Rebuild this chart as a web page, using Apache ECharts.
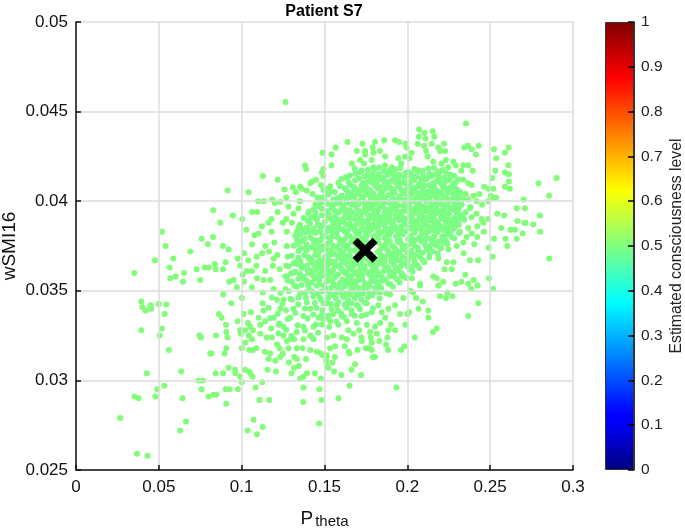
<!DOCTYPE html>
<html><head><meta charset="utf-8">
<style>html,body{margin:0;padding:0;background:#fff}#c{width:685px;height:530px}</style>
<script src="https://cdn.jsdelivr.net/npm/echarts@6/dist/echarts.min.js"></script>
</head><body><div id="c"></div>
<script>
const xTicks = {min:0, max:0.3, step:0.05};
const yTicks = {min:0.025, max:0.05, step:0.005};
const levelTicks = {min:0, max:1, step:0.1};
const jetStops = [[0,'#00007f'],[0.11,'#0000ff'],[0.125,'#0000ff'],[0.375,'#00ffff'],[0.5,'#80ff80'],[0.625,'#ffff00'],[0.875,'#ff0000'],[1,'#7f0000']];
const pointColor = '#81fd78';
const coreColor = '#7dfd84';
const markerTheta = [0.1745];
const markerWsmi = [0.03726];
const upperLeft = [[.1265,.04553],[.1488,.0427],[.1383,.0420],[.1389,.0418],[.1128,.0414],[.1217,.0412],[.0915,.0406],[.1042,.0405],[.1484,.0416],[.1494,.0418],[.1494,.0414],[.1448,.0412],[.1424,.0411],[.1414,.0410],[.1478,.0409],[.1259,.04065],[.1309,.04076],[.1353,.0408],[.1363,.0407],[.1392,.0406],[.1327,.0405],[.1514,.0407],[.1428,.0404],[.1458,.0402],[.1100,.0400],[.1134,.0400],[.1184,.0401],[.1200,.0399],[.1233,.03996],[.1269,.0402],[.1351,.0400],[.1444,.0398],[.1508,.03996],[.0828,.0395],[.1064,.0394],[.1094,.0394],[.0947,.0392],[.1003,.0390],[.0871,.0388],[.1180,.0390],[.1162,.0388],[.1217,.0394],[.1283,.0397],[.1343,.0396],[.1313,.0393],[.1404,.0394],[.1269,.0390],[.1249,.0388],[.1303,.0388],[.1353,.0387],[.1454,.0390],[.1514,.0392],[.1122,.0386],[.1028,.0384],[.1102,.0382],[.1078,.0381],[.1180,.0383],[.1273,.0383],[.1333,.0383],[.1394,.0385],[.0519,.0383],[.0827,.0380],[.0758,.0379],[.0541,.0375],[.0796,.0376],[.0887,.0375],[.0921,.0373],[.0690,.0372],[.1062,.0376],[.1142,.0375],[.1197,.0377],[.1273,.0375],[.1339,.0376],[.1394,.0374],[.1454,.0378],[.0587,.0368],[.0477,.0367],[.0976,.0368],[.1014,.0371],[.1040,.0367],[.1090,.0369],[.1124,.0371],[.1165,.0372],[.1215,.0370],[.1193,.0368],[.1277,.0369],[.0565,.0363],[.0352,.0360],[.0569,.0357],[.0601,.0358],[.0652,.0360],[.0646,.0355],[.0728,.0362],[.0778,.0363],[.0802,.0363],[.0839,.0365],[.0843,.0362],[.0887,.0362],[.0903,.0366],[.0750,.0356],[.0925,.0355],[.0951,.0356],[.1014,.0355],[.0991,.0364],[.1006,.0359],[.1030,.0361],[.1062,.0361],[.1090,.0364],[.1189,.0364],[.1092,.0357],[.1132,.0356],[.1142,.0361],[.1173,.0356],[.1229,.0362],[.1269,.0364],[.1323,.0366],[.1363,.0364],[.1404,.0368],[.1454,.0366],[.1273,.0358],[.1313,.0360],[.1363,.0357],[.1414,.0361],[.1474,.0363],[.1504,.0369],[.1263,.0351],[.1193,.0351],[.1062,.0352],[.0971,.0352]];
const lowerLeft = [[.0394,.0344],[.0450,.0342],[.0499,.03427],[.0545,.03423],[.0400,.0341],[.0420,.0339],[.0454,.0340],[.0535,.0337],[.0394,.0328],[.0519,.0329],[.0505,.0325],[.0561,.0317],[.0746,.0325],[.0754,.0324],[.0845,.0325],[.0863,.0337],[.0879,.0335],[.0889,.0348],[.0937,.0343],[.1001,.0346],[.1126,.0343],[.1128,.0349],[.0905,.0331],[.0907,.0327],[.0915,.0324],[.0907,.0318],[.0897,.0315],[.0810,.0315],[.0818,.0315],[.0975,.0333],[.1013,.0337],[.1056,.0338],[.1132,.0339],[.0991,.0328],[.0995,.0326],[.1021,.0328],[.1038,.0332],[.1052,.0330],[.1068,.0328],[.1102,.0335],[.1142,.0333],[.1112,.0331],[.1193,.0335],[.1178,.0329],[.1223,.0331],[.1253,.0330],[.1293,.0335],[.1213,.0345],[.1253,.0345],[.1303,.0345],[.1233,.0340],[.1313,.0340],[.1373,.0336],[.1414,.0340],[.1474,.0346],[.1464,.0335],[.1514,.0335],[.1373,.0330],[.1434,.0330],[.1333,.0327],[.1253,.0325],[.1293,.0323],[.1042,.0325],[.1062,.0323],[.1112,.0326],[.1152,.0324],[.1182,.0324],[.1021,.0321],[.1001,.0318],[.1046,.0317],[.1068,.0317],[.1088,.0318],[.1140,.0316],[.1172,.0315],[.1162,.0312],[.1203,.0311],[.1233,.0313],[.1249,.0315],[.1213,.0320],[.1229,.0318],[.1273,.0322],[.1317,.0323],[.1283,.0318],[.1333,.0318],[.1367,.0318],[.1373,.0323],[.1414,.0325],[.1434,.0323],[.1414,.0317],[.1454,.0316],[.1478,.0315],[.1510,.0313],[.1388,.0312],[.1317,.0313],[.1333,.0312],[.1285,.0310],[.1345,.0308],[.1317,.0307],[.1301,.0304],[.1156,.0306],[.1207,.0305],[.1394,.0304],[.1442,.0304],[.1373,.0302],[.1353,.0301],[.1478,.0301],[.1514,.0308],[.0921,.0307],[.0960,.0306],[.0962,.0304],[.0843,.0304],[.0887,.0304],[.1020,.0306],[.1044,.0305],[.1052,.0304],[.1066,.0302],[.0991,.0302],[.1001,.0299],[.1124,.0299],[.1084,.0296],[.0740,.0300],[.0766,.0300],[.0758,.0295],[.0903,.0295],[.0927,.0295],[.0977,.0295],[.0800,.0291],[.0830,.0292],[.0847,.0292],[.0907,.0287],[.1108,.0289],[.1166,.0289],[.1373,.0296],[.1470,.0295],[.1482,.0289],[.1371,.0288],[.1072,.0278],[.1468,.0276],[.1126,.0274],[.1036,.0272],[.1092,.0270],[.0428,.0304],[.0635,.0305],[.0533,.0297],[.0491,.0295],[.0479,.0291],[.0352,.0291],[.0378,.0290],[.0643,.0290],[.0267,.0279],[.0664,.0277],[.0629,.0272],[.0368,.0259],[.0432,.0258]];
const lowerRight = [[.2519,.0351],[.2424,.0353],[.2386,.0351],[.2429,.0343],[.2368,.0336],[.2272,.0347],[.2242,.0349],[.2234,.0346],[.2197,.0347],[.2187,.0353],[.2093,.0344],[.2053,.0346],[.2067,.0340],[.2127,.0339],[.2127,.0335],[.2177,.0329],[.2155,.0327],[.2045,.0324],[.2017,.0350],[.2033,.0349],[.2077,.0353],[.2000,.0337],[.1956,.0337],[.2012,.0338],[.1988,.0331],[.1982,.0319],[.1962,.0317],[.1884,.0317],[.1872,.0320],[.1880,.0324],[.1926,.0328],[.1902,.0331],[.1886,.0328],[.1815,.0326],[.1831,.0322],[.1775,.0327],[.1779,.0324],[.1785,.0321],[.1769,.0318],[.1749,.0318],[.1785,.0317],[.1791,.0313],[.1805,.0313],[.1723,.0324],[.1725,.0322],[.1699,.0317],[.1647,.0316],[.1651,.0315],[.1622,.0319],[.1604,.0324],[.1635,.0323],[.1675,.0326],[.1709,.0328],[.1554,.0325],[.1514,.0324],[.1564,.0319],[.1534,.0318],[.1562,.0313],[.1514,.0314],[.1490,.0314],[.1510,.0311],[.1548,.0310],[.1522,.0307],[.1558,.0305],[.1602,.0303],[.1663,.0306],[.1685,.0309],[.1721,.0303],[.1651,.0297],[.1934,.0296],[.1584,.0290],[.1534,.0348],[.1594,.0349],[.1655,.0348],[.1715,.0349],[.1775,.0348],[.1835,.0349],[.1896,.0348],[.1976,.0346],[.1514,.0343],[.1574,.0342],[.1635,.0343],[.1695,.0342],[.1755,.0343],[.1825,.0342],[.1886,.0340],[.1926,.0342],[.1504,.0336],[.1554,.0337],[.1604,.0336],[.1665,.0337],[.1725,.0336],[.1785,.0338],[.1846,.0338],[.1866,.0335],[.1534,.0333],[.1584,.0331],[.1635,.0333],[.1695,.0332],[.1755,.0331],[.1805,.0330],[.1836,.0332],[.1484,.0331],[.1645,.0328]];
const upperRight = [[.2354,.04434],[.2071,.0440],[.2103,.0438],[.2153,.0439],[.2069,.0436],[.2109,.0435],[.2163,.0436],[.2063,.0432],[.2101,.0431],[.2147,.0432],[.2222,.0432],[.2187,.0430],[.2197,.0428],[.2228,.0428],[.2113,.0428],[.2123,.0425],[.2026,.0427],[.1996,.0430],[.1988,.0432],[.1926,.0434],[.1950,.0433],[.1860,.0434],[.1805,.0433],[.1729,.0432],[.1639,.0433],[.1568,.0430],[.1490,.0427],[.1542,.0426],[.1695,.0428],[.1745,.0428],[.1791,.0430],[.1835,.0428],[.1795,.0427],[.1745,.0426],[.1866,.0425],[.1946,.0424],[.1986,.0425],[.2012,.0424],[.1715,.0423],[.1785,.0423],[.1665,.0421],[.1542,.0420],[.1739,.0421],[.1795,.0419],[.1866,.0420],[.1906,.0419],[.1963,.0421],[.2157,.0422],[.2207,.0421],[.2233,.0423],[.2278,.0422],[.2247,.0419],[.2292,.0420],[.2338,.0420],[.2368,.0420],[.2394,.0417],[.2326,.0417],[.2344,.0430],[.2366,.0431],[.2388,.0429],[.2430,.0431],[.2414,.0426],[.2523,.0429],[.2611,.0430],[.2589,.0427],[.2537,.0424],[.2610,.0420],[.2531,.0417],[.2589,.0416],[.2613,.0415],[.2511,.0413],[.2613,.0411],[.2589,.0408],[.2619,.0407],[.2464,.0408],[.2489,.0407],[.2519,.0407],[.2792,.0410],[.2901,.0413],[.2855,.0403],[.2702,.0401],[.2660,.0396],[.2710,.0396],[.2800,.0392],[.2585,.0392],[.2664,.0389],[.2543,.0393],[.2706,.0388],[.2714,.0388],[.2760,.0387],[.2802,.0383],[.2567,.0385],[.2622,.0384],[.2649,.0384],[.2696,.0382],[.2660,.0379],[.2592,.0379],[.2523,.0379],[.2604,.0375],[.2491,.0374],[.2515,.0369],[.2857,.0368],[.2340,.0371],[.2378,.0367],[.2427,.0367],[.2248,.0373],[.2187,.0368],[.2238,.0366],[.2278,.0366],[.2224,.0362],[.2268,.0362],[.2350,.0359],[.2493,.0357],[.2217,.0355],[.2189,.0353],[.2292,.0354],[.2326,.0355],[.2368,.0354],[.2400,.0356],[.2422,.0353],[.2077,.0354],[.2157,.0358],[.2177,.0357],[.2027,.0357],[.1966,.0358],[.2352,.0404],[.2400,.0403],[.2435,.0404],[.2368,.0401],[.2418,.0400],[.2451,.0398],[.2489,.0400],[.2515,.0402],[.2535,.0402],[.2503,.0403],[.2388,.0409],[.2368,.0410],[.2338,.0412],[.2378,.0396],[.2418,.0393],[.2388,.0391],[.2449,.0390],[.2489,.0390],[.2459,.0388],[.2422,.0386],[.2462,.0383],[.2368,.0385],[.2388,.0382],[.2422,.0380],[.2358,.0380],[.2404,.0376],[.2338,.0377],[.2298,.0375],[.2318,.0383],[.2268,.0380],[.2288,.0386],[.2338,.0390],[.2308,.0395],[.2298,.0400],[.2318,.0405]];
const core = [
[.1682,.04183],[.1763,.04176],[.1831,.04188],[.1894,.04172],[.1958,.04185],[.2043,.04179],[.2092,.04168],[.2161,.04186],[.2213,.04174],
[.1714,.04162],[.1792,.04155],[.1858,.04167],[.1923,.04149],[.1989,.04158],[.2062,.04164],[.2133,.04152],[.2191,.04159],[.2262,.04147],
[.1652,.04143],[.1741,.04136],[.1809,.04128],[.1881,.04146],[.1942,.04133],[.2014,.04141],[.2083,.04127],[.2144,.04138],[.2223,.04131],[.2283,.04142],
[.1603,.04124],[.1684,.04116],[.1762,.04109],[.1843,.04121],[.1901,.04113],[.1972,.04106],[.2041,.04118],[.2112,.04123],[.2174,.04108],[.2241,.04115],[.2308,.04121],
[.1583,.04103],[.1652,.04092],[.1724,.04087],[.1793,.04099],[.1861,.04091],[.1932,.04104],[.2003,.04086],[.2072,.04097],[.2134,.04089],[.2203,.04101],[.2274,.04093],
[.1534,.04084],[.1621,.04072],[.1693,.04066],[.1752,.04078],[.1823,.04069],[.1891,.04081],[.1963,.04064],[.2032,.04076],[.2094,.04068],[.2162,.04079],[.2233,.04071],[.2303,.04062],
[.1493,.04063],[.1562,.04051],[.1663,.04047],[.1721,.04058],[.1794,.04043],[.1852,.04056],[.1923,.04049],[.1994,.04061],[.2061,.04044],[.2123,.04053],[.2194,.04041],[.2264,.04057],[.2321,.04048],
[.1523,.04038],[.1604,.04031],[.1682,.04026],[.1751,.04037],[.1813,.04024],[.1884,.04033],[.1952,.04028],[.2023,.04036],[.2083,.04022],[.2154,.04034],[.2221,.04027],[.2293,.04032],
[.1474,.04018],[.1553,.04009],[.1632,.04013],[.1714,.04002],[.1782,.04017],[.1841,.04004],[.1913,.04012],[.1984,.04006],[.2052,.04016],[.2113,.04001],[.2183,.04011],[.2252,.04003],[.2334,.04013],
[.1502,.03994],[.1583,.03987],[.1664,.03981],[.1743,.03992],[.1804,.03983],[.1872,.03996],[.1943,.03978],[.2012,.03989],[.2073,.03982],[.2144,.03991],[.2213,.03977],[.2284,.03985],
[.1463,.03972],[.1544,.03961],[.1612,.03974],[.1693,.03966],[.1772,.03959],[.1833,.03971],[.1902,.03963],[.1973,.03976],[.2044,.03958],[.2104,.03969],[.2172,.03961],[.2243,.03972],[.2312,.03964],[.2381,.03968],
[.1432,.03953],[.1513,.03944],[.1584,.03937],[.1653,.03949],[.1721,.03941],[.1792,.03953],[.1863,.03936],[.1934,.03948],[.2003,.03942],[.2063,.03951],[.2134,.03938],[.2204,.03946],[.2271,.03952],[.2352,.03939],
[.1403,.03928],[.1482,.03921],[.1563,.03916],[.1624,.03929],[.1693,.03914],[.1762,.03924],[.1833,.03912],[.1894,.03927],[.1964,.03918],[.2032,.03926],[.2092,.03911],[.2161,.03923],[.2232,.03917],[.2302,.03925],
[.1374,.03906],[.1452,.03896],[.1533,.03903],[.1594,.03891],[.1662,.03904],[.1731,.03889],[.1804,.03901],[.1873,.03893],[.1933,.03906],[.2004,.03887],[.2073,.03899],[.2134,.03892],[.2203,.03904],[.2264,.03888],[.2343,.03897],
[.1412,.03876],[.1493,.03867],[.1562,.03878],[.1633,.03869],[.1702,.03881],[.1773,.03864],[.1842,.03873],[.1912,.03868],[.1981,.03879],[.2044,.03866],[.2112,.03874],[.2174,.03863],[.2243,.03877],[.2311,.03868],
[.1343,.03856],[.1434,.03847],[.1524,.03851],[.1593,.03844],[.1664,.03853],[.1734,.03842],[.1803,.03855],[.1872,.03846],[.1943,.03838],[.2013,.03852],[.2083,.03843],[.2144,.03854],[.2214,.03841],[.2281,.03849],
[.1382,.03826],[.1473,.03831],[.1552,.03822],[.1623,.03829],[.1692,.03817],[.1764,.03828],[.1833,.03819],[.1904,.03831],[.1974,.03816],[.2043,.03826],[.2113,.03819],[.2182,.03828],[.2252,.03814],[.2312,.03823],
[.1323,.03806],[.1414,.03797],[.1503,.03803],[.1584,.03794],[.1652,.03806],[.1724,.03792],[.1794,.03801],[.1863,.03795],[.1933,.03804],[.2004,.03789],[.2073,.03798],[.2142,.03791],[.2211,.03802],[.2283,.03793],
[.1362,.03776],[.1453,.03768],[.1534,.03779],[.1612,.03771],[.1683,.03764],[.1753,.03776],[.1824,.03768],[.1893,.03778],[.1962,.03763],[.2033,.03774],[.2104,.03766],[.2172,.03772],[.2243,.03761],
[.1314,.03752],[.1423,.03743],[.1492,.03748],[.1573,.03741],[.1641,.03753],[.1713,.03744],[.1852,.03748],[.1924,.03739],[.1992,.03751],[.2063,.03742],[.2134,.03746],[.2203,.03738],
[.1344,.03722],[.1462,.03718],[.1543,.03726],[.1612,.03713],[.1682,.03724],[.1823,.03716],[.1883,.03726],[.1953,.03714],[.2024,.03723],[.2092,.03712],[.2153,.03721],
[.1302,.03696],[.1403,.03688],[.1513,.03694],[.1584,.03687],[.1652,.03698],[.1732,.03684],[.1794,.03693],[.1863,.03686],[.1933,.03697],[.2004,.03683],[.2073,.03692],[.2132,.03686],
[.1354,.03663],[.1473,.03668],[.1543,.03659],[.1623,.03666],[.1692,.03658],[.1763,.03669],[.1834,.03657],[.1903,.03664],[.1972,.03656],[.2043,.03667],[.2103,.03659],
[.1283,.03636],[.1394,.03641],[.1502,.03632],[.1583,.03639],[.1652,.03628],[.1723,.03637],[.1793,.03629],[.1864,.03641],[.1933,.03626],[.2003,.03634],[.2072,.03627],
[.1323,.03606],[.1432,.03612],[.1533,.03603],[.1613,.03611],[.1684,.03601],[.1753,.03609],[.1823,.03602],[.1894,.03608],[.1963,.03599],[.2032,.03606],
[.1263,.03581],[.1374,.03578],[.1483,.03584],[.1563,.03576],[.1642,.03583],[.1712,.03574],[.1782,.03581],[.1852,.03573],[.1923,.03579],[.1993,.03572],
[.1302,.03551],[.1423,.03546],[.1514,.03553],[.1593,.03544],[.1673,.03552],[.1743,.03543],[.1814,.03549],[.1884,.03541],[.1953,.03547],
[.1333,.03522],[.1453,.03528],[.1543,.03519],[.1623,.03526],[.1703,.03517],[.1773,.03524],[.1842,.03516],[.1913,.03523],
[.1284,.03498],[.1383,.03491],[.1483,.03496],[.1574,.03489],[.1653,.03494],[.1733,.03487],[.1803,.03493],[.1873,.03486],
[.1343,.03463],[.1434,.03468],[.1523,.03461],[.1612,.03466],[.1682,.03459],[.1763,.03464],[.1833,.03457],
[.1393,.03436],[.1494,.03431],[.1583,.03438],[.1663,.03429],[.1743,.03434],
[.1452,.03404],[.1543,.03398],[.1632,.03406],[.1713,.03397],[.1792,.03403],
[.1484,.03368],[.1602,.03372],[.1683,.03361],[.1752,.03368]
];
const coreFill = [
[.1725,.04172],[.1802,.04181],[.1868,.04169],[.1927,.04178],[.2006,.04165],[.2068,.04173],[.2127,.04182],[.2188,.04166],
[.1686,.04152],[.1756,.04146],[.1826,.04151],[.1902,.04158],[.1953,.04147],[.2024,.04153],[.2096,.04144],[.2165,.04149],[.2238,.04156],
[.1627,.04133],[.1708,.04127],[.1781,.04139],[.1853,.04132],[.1915,.04124],[.1982,.04129],[.2053,.04137],[.2118,.04126],[.2192,.04134],[.2256,.04124],
[.1645,.04108],[.1732,.04102],[.1814,.04105],[.1876,.04096],[.1946,.04117],[.2018,.04103],[.2088,.04112],[.2156,.04101],[.2221,.04096],[.2292,.04106],
[.1594,.04083],[.1676,.04079],[.1742,.04062],[.1806,.04086],[.1874,.04072],[.1943,.04083],[.2012,.04062],[.2082,.04083],[.2148,.04061],[.2214,.04084],[.2286,.04077],
[.1532,.04056],[.1635,.04058],[.1703,.04041],[.1773,.04061],[.1838,.04042],[.1908,.04064],[.1975,.04043],[.2043,.04057],[.2108,.04038],[.2178,.04058],[.2243,.04046],[.2311,.04028],
[.1498,.04024],[.1578,.04018],[.1656,.04024],[.1728,.04023],[.1796,.04002],[.1862,.04021],[.1932,.04005],[.2002,.04024],[.2068,.04003],[.2134,.04022],[.2203,.04002],[.2272,.04016],
[.1478,.03993],[.1556,.03982],[.1636,.03992],[.1706,.03984],[.1783,.03976],[.1849,.03989],[.1918,.03981],[.1988,.03968],[.2056,.03984],[.2123,.03964],[.2192,.03986],[.2262,.03962],[.2328,.03982],
[.1445,.03936],[.1526,.03928],[.1601,.03952],[.1672,.03935],[.1744,.03963],[.1814,.03936],[.1882,.03951],[.1952,.03938],[.2022,.03957],[.2086,.03934],[.2153,.03948],[.2222,.03939],[.2293,.03944],
[.1421,.03908],[.1502,.03885],[.1578,.03898],[.1643,.03908],[.1712,.03897],[.1783,.03909],[.1852,.03902],[.1913,.03888],[.1984,.03903],[.2052,.03891],[.2114,.03908],[.2183,.03886],[.2248,.03901],[.2324,.03907],
[.1392,.03852],[.1461,.03869],[.1544,.03858],[.1614,.03884],[.1683,.03861],[.1752,.03882],[.1824,.03861],[.1893,.03884],[.1962,.03858],[.2028,.03883],[.2094,.03861],[.2163,.03879],[.2232,.03858],[.2298,.03878],
[.1354,.03816],[.1442,.03824],[.1513,.03832],[.1575,.03843],[.1642,.03838],[.1714,.03834],[.1783,.03842],[.1853,.03829],[.1922,.03846],[.1992,.03832],[.2062,.03849],[.2131,.03832],[.2198,.03847],[.2267,.03836],
[.1378,.03791],[.1476,.03782],[.1556,.03805],[.1624,.03791],[.1686,.03785],[.1753,.03806],[.1822,.03791],[.1892,.03811],[.1954,.03785],[.2022,.03806],[.2092,.03783],[.2162,.03806],[.2232,.03782],
[.1336,.03764],[.1438,.03762],[.1516,.03761],[.1592,.03764],[.1662,.03772],[.1733,.03763],[.1804,.03779],[.1872,.03762],[.1943,.03772],[.2012,.03759],[.2082,.03778],[.2148,.03759],[.2218,.03768],
[.1394,.03725],[.1483,.03729],[.1563,.03705],[.1632,.03739],[.1701,.03706],[.1842,.03698],[.1912,.03708],[.1982,.03732],[.2048,.03702],[.2118,.03731],[.2184,.03708],
[.1342,.03684],[.1444,.03701],[.1522,.03672],[.1604,.03682],[.1672,.03676],[.1746,.03704],[.1814,.03676],[.1884,.03701],[.1952,.03671],[.2022,.03701],[.2091,.03674],
[.1312,.03652],[.1418,.03658],[.1484,.03652],[.1563,.03644],[.1638,.03646],[.1708,.03649],[.1778,.03648],[.1848,.03649],[.1918,.03646],[.1988,.03651],[.2058,.03646],
[.1362,.03627],[.1456,.03622],[.1516,.03618],[.1602,.03623],[.1668,.03618],[.1738,.03621],[.1808,.03617],[.1878,.03624],[.1948,.03614],[.2018,.03619],
[.1298,.03596],[.1402,.03601],[.1464,.03593],[.1546,.03596],[.1628,.03597],[.1698,.03591],[.1768,.03594],[.1838,.03588],[.1908,.03592],[.1978,.03586],
[.1342,.03566],[.1442,.03566],[.1528,.03568],[.1608,.03563],[.1658,.03568],[.1728,.03561],[.1798,.03565],[.1868,.03558],[.1938,.03563],
[.1362,.03532],[.1468,.03537],[.1558,.03534],[.1648,.03538],[.1688,.03534],[.1758,.03533],[.1828,.03531],[.1898,.03536],
[.1408,.03508],[.1508,.03512],[.1598,.03508],[.1668,.03508],[.1748,.03506],[.1818,.03503],
[.1458,.03482],[.1548,.03476],[.1632,.03482],[.1708,.03477],[.1788,.03474]
];
const coreDense = [
[.1781,.04128],[.1867,.04112],[.1953,.04092],[.2027,.04128],[.2102,.04088],[.2182,.04117],[.2258,.04076],
[.1742,.04098],[.1831,.04079],[.1917,.04067],[.1989,.04101],[.2063,.04082],[.2146,.04072],[.2207,.04053],[.2278,.04041],
[.1688,.04064],[.1773,.04032],[.1846,.04029],[.1906,.04041],[.2011,.04041],[.2091,.04051],[.2168,.04027],[.2234,.04018],[.2302,.04001],
[.1642,.04036],[.1732,.04011],[.1823,.04003],[.1894,.03994],[.1962,.04011],[.2032,.04003],[.2097,.04011],[.2164,.03994],[.2243,.03992],[.2302,.03972],
[.1596,.04001],[.1684,.03996],[.1764,.03993],[.1854,.03968],[.1926,.03962],[.2003,.03974],[.2083,.03958],[.2154,.03968],[.2226,.03957],[.2291,.03959],
[.1523,.03984],[.1628,.03952],[.1704,.03946],[.1748,.03938],[.1823,.03949],[.1896,.03941],[.1974,.03944],[.2044,.03939],[.2112,.03946],[.2182,.03933],[.2252,.03932],[.2334,.03923],
[.1483,.03958],[.1562,.03948],[.1642,.03926],[.1719,.03918],[.1798,.03927],[.1862,.03918],[.1931,.03924],[.2012,.03912],[.2073,.03921],[.2144,.03919],[.2213,.03925],[.2283,.03907],
[.1442,.03917],[.1548,.03889],[.1612,.03901],[.1692,.03892],[.1763,.03894],[.1828,.03889],[.1894,.03903],[.1952,.03892],[.2022,.03908],[.2098,.03882],[.2162,.03897],[.2231,.03886],[.2308,.03891],
[.1398,.03891],[.1478,.03854],[.1583,.03866],[.1652,.03874],[.1722,.03867],[.1798,.03871],[.1863,.03863],[.1924,.03858],[.1992,.03868],[.2063,.03869],[.2128,.03858],[.2196,.03864],[.2264,.03859],
[.1362,.03846],[.1452,.03827],[.1538,.03836],[.1608,.03843],[.1682,.03838],[.1758,.03851],[.1822,.03841],[.1902,.03849],[.1964,.03832],[.2033,.03841],[.2098,.03833],[.2162,.03838],[.2242,.03838],
[.1408,.03828],[.1488,.03806],[.1573,.03818],[.1638,.03812],[.1708,.03819],[.1748,.03814],[.1813,.03812],[.1883,.03816],[.1948,.03818],[.2023,.03788],[.2089,.03815],[.2163,.03782],[.2228,.03812],
[.1334,.03785],[.1433,.03782],[.1528,.03796],[.1596,.03781],[.1668,.03789],[.1736,.03783],[.1802,.03784],[.1873,.03783],[.1942,.03791],[.2048,.03784],[.2118,.03792],[.2196,.03776],
[.1392,.03758],[.1468,.03746],[.1552,.03752],[.1618,.03752],[.1694,.03748],[.1872,.03738],[.1908,.03752],[.1972,.03742],[.2042,.03752],[.2112,.03748],[.2178,.03752],
[.1362,.03738],[.1448,.03726],[.1518,.03728],[.1592,.03727],[.1652,.03728],[.1708,.03722],[.1838,.03732],[.1932,.03728],[.2002,.03712],[.2066,.03726],[.2136,.03708],
[.1378,.03698],[.1462,.03696],[.1536,.03702],[.1598,.03708],[.1636,.03692],[.1714,.03698],[.1776,.03706],[.1838,.03678],[.1904,.03682],[.1972,.03688],[.2034,.03684],
[.1422,.03678],[.1498,.03672],[.1562,.03664],[.1608,.03658],[.1658,.03664],[.1722,.03668],[.1792,.03664],[.1862,.03668],[.1932,.03672],[.2002,.03664],
[.1338,.03648],[.1442,.03642],[.1522,.03648],[.1596,.03632],[.1678,.03642],[.1742,.03638],[.1812,.03638],[.1882,.03632],[.1962,.03638],[.2034,.03638],
[.1398,.03618],[.1486,.03612],[.1552,.03618],[.1632,.03608],[.1708,.03612],[.1788,.03608],[.1858,.03612],[.1924,.03608],
[.1352,.03594],[.1428,.03588],[.1512,.03586],[.1582,.03592],[.1662,.03586],[.1728,.03588],[.1818,.03584],[.1892,.03581],
[.1278,.03558],[.1392,.03556],[.1468,.03562],[.1548,.03552],[.1628,.03553],[.1698,.03556],[.1782,.03552],[.1846,.03556],
[.1318,.03528],[.1402,.03531],[.1498,.03528],[.1578,.03518],[.1662,.03522],[.1738,.03518],[.1808,.03516],
[.1234,.03488],[.1352,.03482],[.1424,.03496],[.1528,.03488],[.1608,.03492],[.1692,.03488],[.1772,.03486],
[.1182,.03462],[.1294,.03456],[.1388,.03461],[.1478,.03452],[.1568,.03458],[.1642,.03448],[.1722,.03452],
[.1246,.03428],[.1342,.03424],[.1442,.03432],[.1538,.03428],[.1622,.03422],[.1702,.03418],
[.1162,.03406],[.1268,.03392],[.1382,.03401],[.1488,.03392],[.1582,.03388],[.1662,.03392],
[.1218,.03372],[.1324,.03376],[.1432,.03368],[.1528,.03362],[.1618,.03352],
[.1172,.03348],[.1278,.03342],[.1398,.03346],[.1492,.03341],[.1572,.03328],
[.1228,.03318],[.1338,.03308],[.1448,.03312],[.1528,.03298],
[.1268,.03282],[.1382,.03278],[.1462,.03266],[.1222,.03262],[.1302,.03248],[.1428,.03236]
];
const trials = upperLeft.concat(lowerLeft, lowerRight, upperRight);
const coreTrials = core.concat(coreFill, coreDense);

const font = '"Liberation Sans", Arial, sans-serif';
const chart = echarts.init(document.getElementById('c'), null, {renderer:'canvas'});
const xMark = 'path://M2,6 L6,2 L12,8 L18,2 L22,6 L16,12 L22,18 L18,22 L12,16 L6,22 L2,18 L8,12 Z';
chart.setOption({
  animation:false,
  backgroundColor:'#fff',
  textStyle:{fontFamily:font},
  title:{text:'Patient S7',left:319,top:-1,textAlign:'center',textStyle:{fontFamily:font,fontSize:16,fontWeight:'bold',color:'#000'}},
  grid:[
    {left:76,top:22,width:497,height:448,containLabel:false,outerBoundsMode:'none'},
    {left:605,top:22,width:29,height:448,containLabel:false,outerBoundsMode:'none'}
  ],
  xAxis:[
    {gridIndex:0,type:'value',min:xTicks.min,max:xTicks.max,interval:xTicks.step,z:3,
     axisLine:{show:true,onZero:false,lineStyle:{color:'#111',width:1.5}},
     axisTick:{show:true,inside:true,length:5,lineStyle:{color:'#111',width:1.5}},
     axisLabel:{color:'#111',fontSize:17,margin:9,fontFamily:font},
     splitLine:{show:true,lineStyle:{color:'#dcdcdc',width:1.5}},
     name:'{p|P}{s|theta}',nameLocation:'middle',nameGap:33,
     nameTextStyle:{rich:{p:{fontSize:19,lineHeight:20,color:'#111',fontFamily:font,verticalAlign:'top'},s:{fontSize:15,lineHeight:15,color:'#111',fontFamily:font,padding:[13,0,0,2],verticalAlign:'bottom'}}}},
    {gridIndex:1,type:'category',data:['level'],axisLine:{show:false},axisTick:{show:false},axisLabel:{show:false},splitLine:{show:false}}
  ],
  yAxis:[
    {gridIndex:0,type:'value',min:yTicks.min,max:yTicks.max,interval:yTicks.step,z:3,
     axisLine:{show:true,onZero:false,lineStyle:{color:'#111',width:1.5}},
     axisTick:{show:true,inside:true,length:5,lineStyle:{color:'#111',width:1.5}},
     axisLabel:{color:'#111',fontSize:17,margin:8,fontFamily:font},
     splitLine:{show:true,lineStyle:{color:'#dcdcdc',width:1.5}},
     name:'wSMI16',nameLocation:'middle',nameGap:57,nameRotate:90,nameMoveOverlap:false,
     nameTextStyle:{color:'#111',fontSize:19,fontFamily:font}},
    {gridIndex:1,type:'value',position:'right',min:levelTicks.min,max:levelTicks.max,interval:levelTicks.step,z:10,
     axisLine:{show:true,lineStyle:{color:'#333',width:1}},
     axisTick:{show:true,inside:true,length:6,lineStyle:{color:'#000',width:1.5}},
     axisLabel:{color:'#222',fontSize:15.5,margin:7,fontFamily:font},
     splitLine:{show:false},
     name:'Estimated consciousness level',nameLocation:'middle',nameGap:35,nameRotate:90,nameMoveOverlap:false,
     nameTextStyle:{color:'#222',fontSize:15.8,fontFamily:font}}
  ],
  series:[
    {type:'scatter',xAxisIndex:0,yAxisIndex:0,data:trials,symbolSize:6,itemStyle:{color:pointColor,opacity:1},z:2,silent:true},
    {type:'scatter',xAxisIndex:0,yAxisIndex:0,data:coreTrials,symbolSize:6,itemStyle:{color:coreColor,opacity:1},z:2,silent:true},
    {type:'scatter',xAxisIndex:0,yAxisIndex:0,data:[[markerTheta[0],markerWsmi[0]]],symbol:xMark,symbolSize:25,itemStyle:{color:'#000',opacity:1},z:4,silent:true},
    {type:'bar',xAxisIndex:1,yAxisIndex:1,data:[levelTicks.max],barWidth:'100%',z:2,silent:true,
     itemStyle:{borderColor:'#333',borderWidth:1,
       color:new echarts.graphic.LinearGradient(0,1,0,0,jetStops.map(s=>({offset:s[0],color:s[1]})))}}
  ]
});
</script></body></html>
